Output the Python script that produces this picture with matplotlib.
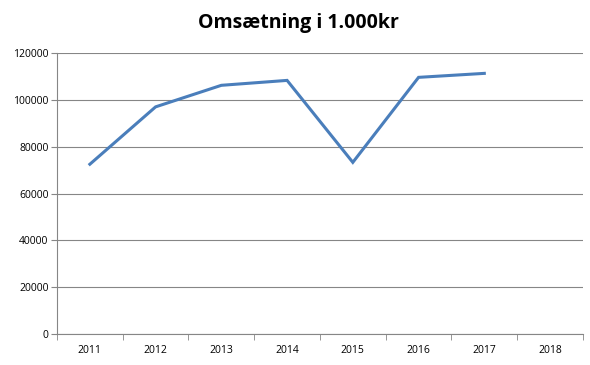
import matplotlib
matplotlib.use("Agg")
import matplotlib.pyplot as plt
import numpy as np

years = ["2011", "2012", "2013", "2014", "2015", "2016", "2017", "2018"]
values = [72500, 97000, 106200, 108300, 73300, 109600, 111300]
yticks = [0, 20000, 40000, 60000, 80000, 100000, 120000]

plt.rcParams['font.family'] = ['Open Sans', 'DejaVu Sans']
fig = plt.figure(figsize=(5.9, 3.65), dpi=100)
ax = fig.add_axes([0.0966, 0.0849, 0.8914, 0.7699])

x = np.arange(len(values))
ax.plot(x, values, color="#4A7EBB", linewidth=2.2, solid_joinstyle="miter")

ax.set_xlim(-0.5, len(years) - 0.5)
ax.set_ylim(0, 120000)
ax.set_yticks(yticks)
ax.set_yticklabels([str(v) for v in yticks], fontsize=7.5)
ax.set_xticks(np.arange(len(years)))
ax.set_xticklabels(years, fontsize=7.5)
ax.tick_params(axis='x', length=0, pad=8)
ax.set_xticks(np.arange(len(years) + 1) - 0.5, minor=True)
ax.tick_params(axis='x', which='minor', length=4, color="#868686", direction='out')
ax.tick_params(axis='y', length=4, color="#868686", direction='out', pad=2)

ax.yaxis.grid(True, color="#868686", linewidth=0.8)
ax.set_axisbelow(True)
for s in ["top", "right"]:
    ax.spines[s].set_visible(False)
ax.spines["left"].set_color("#868686")
ax.spines["bottom"].set_color("#868686")

fig.text(0.505, 0.938, "Omsætning i 1.000kr", ha="center", va="center",
         fontsize=14, fontweight="bold")

fig.savefig("out.png", dpi=100)
